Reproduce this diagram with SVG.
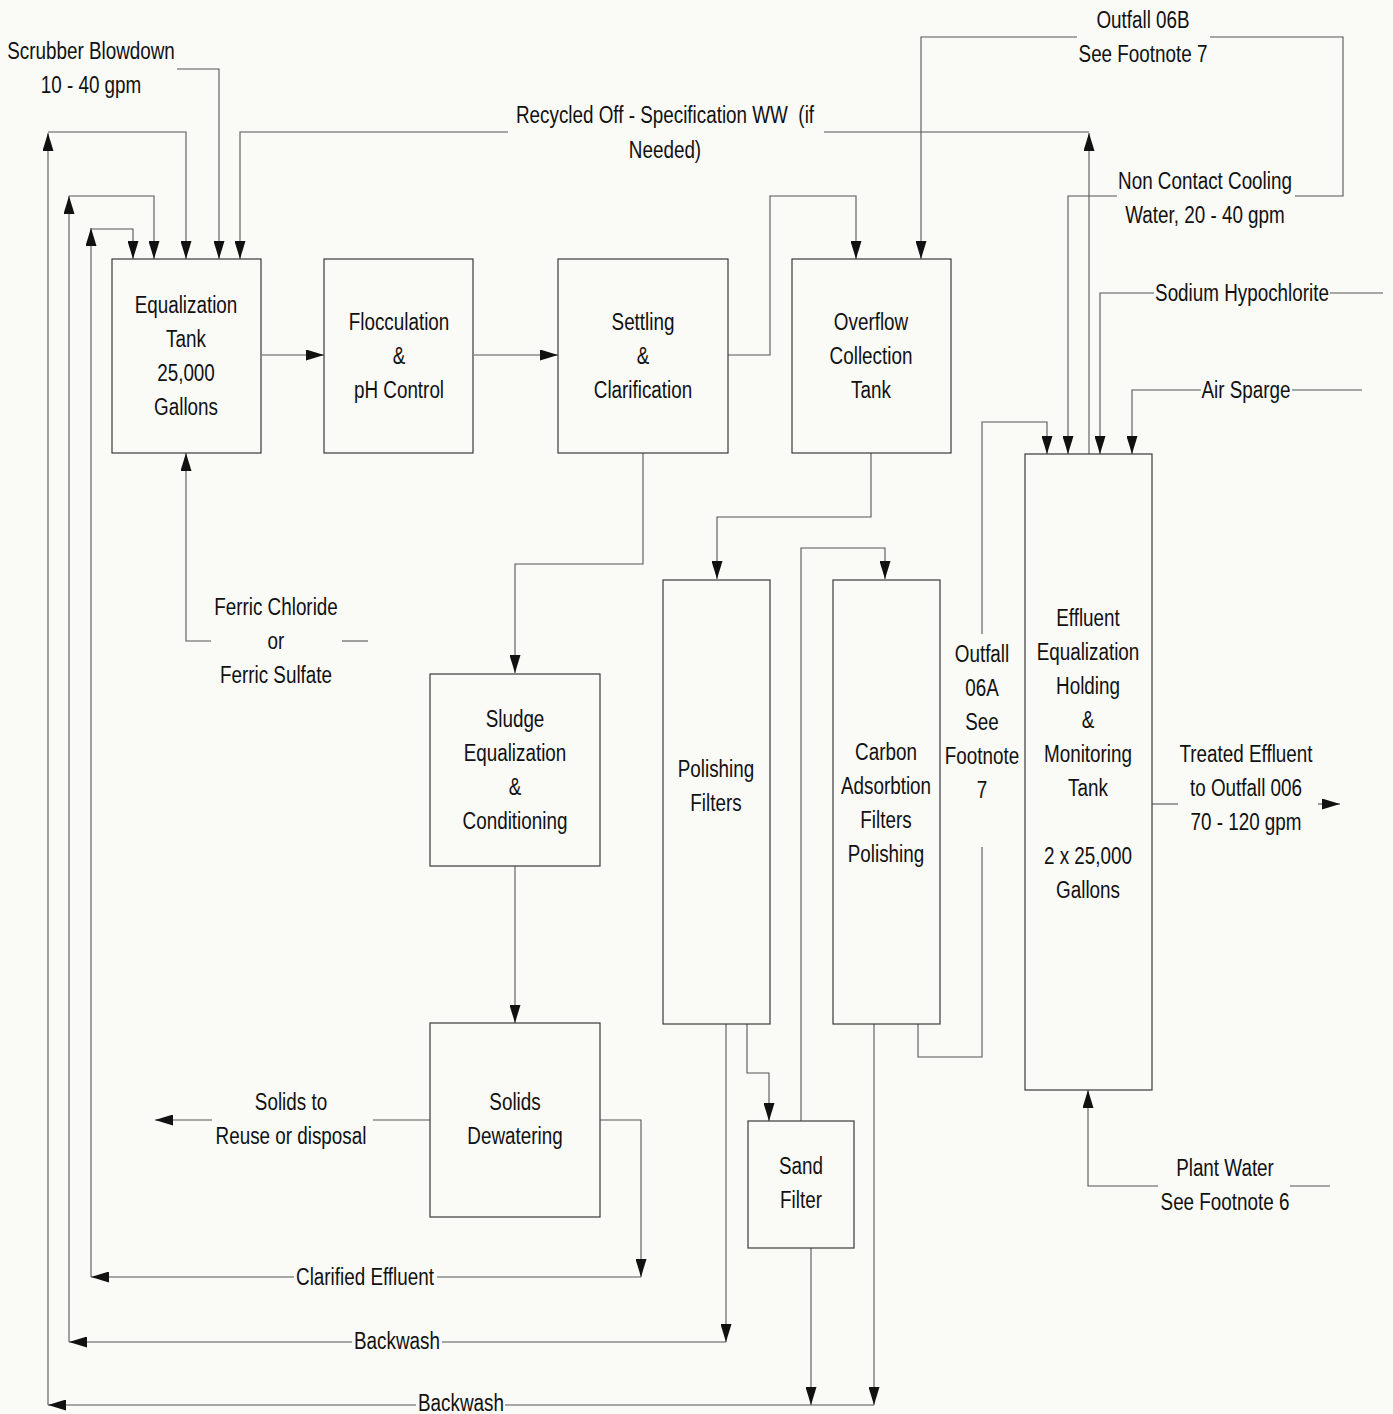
<svg xmlns="http://www.w3.org/2000/svg" width="1393" height="1414" viewBox="0 0 1393 1414">
<style>
.bg{fill:#fafaf7}
.box{fill:none;stroke:#3a3a3a;stroke-width:1.2}
.ln{fill:none;stroke:#555;stroke-width:1.1}
.ar{marker-end:url(#ah)}
.t{font-family:"Liberation Sans",Arial,sans-serif;font-size:23px;fill:#111;text-anchor:middle}
</style>
<defs>
<marker id="ah" viewBox="0 0 18 11" refX="18" refY="5.5" markerWidth="18" markerHeight="11" markerUnits="userSpaceOnUse" orient="auto">
<path d="M0,0 L18,5.5 L0,11 z" fill="#111"/>
</marker>
</defs>
<rect class="bg" x="0" y="0" width="1393" height="1414"/>

<g id="connectors">
<path class="ln ar" d="M262,355 H324"/>
<path class="ln ar" d="M474,355 H558"/>
<path class="ln ar" d="M728,355 H770 V196 H856 V259"/>
<path class="ln ar" d="M1077,37 H921 V259"/>
<path class="ln" d="M1210,37 H1343 V196 H1295"/>
<path class="ln ar" d="M1117,196 H1068 V454"/>
<path class="ln ar" d="M1089,454 V133"/>
<path class="ln" d="M1089,132 H824"/>
<path class="ln ar" d="M508,132 H240 V259"/>
<path class="ln ar" d="M177,69 H219 V259"/>
<path class="ln ar" d="M811,1248 V1405"/>
<path class="ln ar" d="M874,1024 V1405"/>
<path class="ln" d="M874,1405 H505"/>
<path class="ln ar" d="M416,1405 H48"/>
<path class="ln ar" d="M48,1405 V133"/>
<path class="ln ar" d="M48,132 H186 V259"/>
<path class="ln ar" d="M726,1024 V1342"/>
<path class="ln" d="M726,1342 H442"/>
<path class="ln ar" d="M352,1342 H69"/>
<path class="ln ar" d="M69,1342 V196"/>
<path class="ln ar" d="M69,196 H154 V259"/>
<path class="ln ar" d="M600,1120 H641 V1277"/>
<path class="ln" d="M641,1277 H437"/>
<path class="ln ar" d="M294,1277 H91"/>
<path class="ln ar" d="M91,1277 V228"/>
<path class="ln ar" d="M91,229 H133 V259"/>
<path class="ln" d="M430,1120 H373"/>
<path class="ln ar" d="M212,1120 H155"/>
<path class="ln ar" d="M643,453 V564 H515 V673"/>
<path class="ln ar" d="M515,866 V1023"/>
<path class="ln ar" d="M871,453 V517 H717 V579"/>
<path class="ln ar" d="M801,1121 V548 H885 V579"/>
<path class="ln ar" d="M747,1024 V1073 H769 V1121"/>
<path class="ln" d="M918,1024 V1057 H982 V847"/>
<path class="ln ar" d="M982,634 V422 H1047 V454"/>
<path class="ln" d="M1383,293 H1330"/>
<path class="ln ar" d="M1154,293 H1100 V454"/>
<path class="ln" d="M1362,390 H1292"/>
<path class="ln ar" d="M1201,390 H1132 V454"/>
<path class="ln" d="M1152,804 H1178"/>
<path class="ln ar" d="M1318,804 H1340"/>
<path class="ln" d="M1330,1186 H1290"/>
<path class="ln ar" d="M1158,1186 H1088 V1090"/>
<path class="ln" d="M368,641 H342"/>
<path class="ln ar" d="M211,641 H186 V453"/>
</g>

<g id="equalization-tank">
<rect class="box" x="112" y="259" width="149" height="194"/>
<text class="t" transform="translate(186,313) scale(0.82,1)"><tspan x="0">Equalization</tspan><tspan x="0" dy="34">Tank</tspan><tspan x="0" dy="34">25,000</tspan><tspan x="0" dy="34">Gallons</tspan></text>
</g>
<g id="flocculation">
<rect class="box" x="324" y="259" width="149" height="194"/>
<text class="t" transform="translate(399,330) scale(0.82,1)"><tspan x="0">Flocculation</tspan><tspan x="0" dy="34">&amp;</tspan><tspan x="0" dy="34">pH Control</tspan></text>
</g>
<g id="settling">
<rect class="box" x="558" y="259" width="170" height="194"/>
<text class="t" transform="translate(643,330) scale(0.82,1)"><tspan x="0">Settling</tspan><tspan x="0" dy="34">&amp;</tspan><tspan x="0" dy="34">Clarification</tspan></text>
</g>
<g id="overflow-tank">
<rect class="box" x="792" y="259" width="159" height="194"/>
<text class="t" transform="translate(871,330) scale(0.82,1)"><tspan x="0">Overflow</tspan><tspan x="0" dy="34">Collection</tspan><tspan x="0" dy="34">Tank</tspan></text>
</g>
<g id="sludge-equalization">
<rect class="box" x="430" y="674" width="170" height="192"/>
<text class="t" transform="translate(515,727) scale(0.82,1)"><tspan x="0">Sludge</tspan><tspan x="0" dy="34">Equalization</tspan><tspan x="0" dy="34">&amp;</tspan><tspan x="0" dy="34">Conditioning</tspan></text>
</g>
<g id="solids-dewatering">
<rect class="box" x="430" y="1023" width="170" height="194"/>
<text class="t" transform="translate(515,1110) scale(0.82,1)"><tspan x="0">Solids</tspan><tspan x="0" dy="34">Dewatering</tspan></text>
</g>
<g id="polishing-filters">
<rect class="box" x="663" y="580" width="107" height="444"/>
<text class="t" transform="translate(716,777) scale(0.82,1)"><tspan x="0">Polishing</tspan><tspan x="0" dy="34">Filters</tspan></text>
</g>
<g id="carbon-filters">
<rect class="box" x="833" y="580" width="107" height="444"/>
<text class="t" transform="translate(886,760) scale(0.82,1)"><tspan x="0">Carbon</tspan><tspan x="0" dy="34">Adsorbtion</tspan><tspan x="0" dy="34">Filters</tspan><tspan x="0" dy="34">Polishing</tspan></text>
</g>
<g id="sand-filter">
<rect class="box" x="748" y="1121" width="106" height="127"/>
<text class="t" transform="translate(801,1174) scale(0.82,1)"><tspan x="0">Sand</tspan><tspan x="0" dy="34">Filter</tspan></text>
</g>
<g id="effluent-tank">
<rect class="box" x="1025" y="454" width="127" height="636"/>
<text class="t" transform="translate(1088,626) scale(0.82,1)"><tspan x="0">Effluent</tspan><tspan x="0" dy="34">Equalization</tspan><tspan x="0" dy="34">Holding</tspan><tspan x="0" dy="34">&amp;</tspan><tspan x="0" dy="34">Monitoring</tspan><tspan x="0" dy="34">Tank</tspan><tspan x="0" dy="68">2 x 25,000</tspan><tspan x="0" dy="34">Gallons</tspan></text>
</g>

<g id="labels">
<text class="t" transform="translate(91,59) scale(0.82,1)"><tspan x="0">Scrubber Blowdown</tspan><tspan x="0" dy="34">10 - 40 gpm</tspan></text>
<text class="t" transform="translate(665,123) scale(0.82,1)"><tspan x="0" xml:space="preserve">Recycled Off - Specification WW  (if</tspan><tspan x="0" dy="35">Needed)</tspan></text>
<text class="t" transform="translate(1143,28) scale(0.82,1)"><tspan x="0">Outfall 06B</tspan><tspan x="0" dy="34">See Footnote 7</tspan></text>
<text class="t" transform="translate(1205,189) scale(0.82,1)"><tspan x="0">Non Contact Cooling</tspan><tspan x="0" dy="34">Water, 20 - 40 gpm</tspan></text>
<text class="t" transform="translate(1242,301) scale(0.82,1)">Sodium Hypochlorite</text>
<text class="t" transform="translate(1246,398) scale(0.82,1)">Air Sparge</text>
<text class="t" transform="translate(276,615) scale(0.82,1)"><tspan x="0">Ferric Chloride</tspan><tspan x="0" dy="34">or</tspan><tspan x="0" dy="34">Ferric Sulfate</tspan></text>
<text class="t" transform="translate(982,662) scale(0.82,1)"><tspan x="0">Outfall</tspan><tspan x="0" dy="34">06A</tspan><tspan x="0" dy="34">See</tspan><tspan x="0" dy="34">Footnote</tspan><tspan x="0" dy="34">7</tspan></text>
<text class="t" transform="translate(1246,762) scale(0.82,1)"><tspan x="0">Treated Effluent</tspan><tspan x="0" dy="34">to Outfall 006</tspan><tspan x="0" dy="34">70 - 120 gpm</tspan></text>
<text class="t" transform="translate(291,1110) scale(0.82,1)"><tspan x="0">Solids to</tspan><tspan x="0" dy="34">Reuse or disposal</tspan></text>
<text class="t" transform="translate(1225,1176) scale(0.82,1)"><tspan x="0">Plant Water</tspan><tspan x="0" dy="34">See Footnote 6</tspan></text>
<text class="t" transform="translate(365,1285) scale(0.82,1)">Clarified Effluent</text>
<text class="t" transform="translate(397,1349) scale(0.82,1)">Backwash</text>
<text class="t" transform="translate(461,1411) scale(0.82,1)">Backwash</text>
</g>
</svg>
